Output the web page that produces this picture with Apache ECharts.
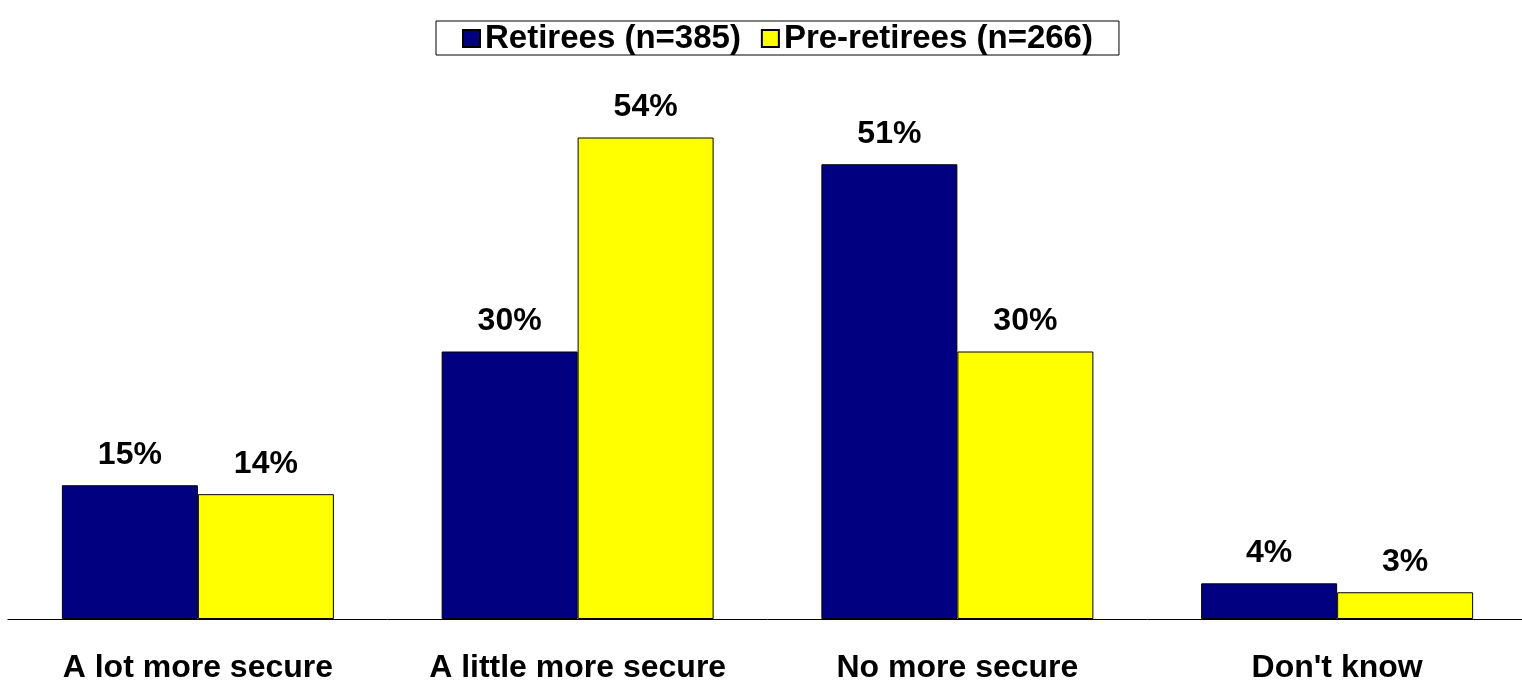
<!DOCTYPE html>
<html>
<head>
<meta charset="utf-8">
<script src="https://cdn.jsdelivr.net/npm/echarts@6/dist/echarts.min.js"></script>
<style>html,body{margin:0;padding:0;background:#fff;overflow:hidden}#c{width:1527px;height:684px}</style>
</head>
<body>
<div id="c"></div>
<script>
const categories = ["A lot more secure", "A little more secure", "No more secure", "Don't know"];
const retirees = [15, 30, 51, 4];
const preRetirees = [14, 54, 30, 3];
const seriesNames = ["Retirees (n=385)", "Pre-retirees (n=266)"];

const FONT = '"Liberation Sans", Arial, sans-serif';
const chart = echarts.init(document.getElementById('c'));
const labelStyle = {
  show: true, position: 'top', distance: 14,
  formatter: '{c}%', color: '#000', fontFamily: FONT, fontWeight: 'bold', fontSize: 32
};
chart.setOption({
  animation: false,
  backgroundColor: '#fff',
  legend: {
    top: 21, left: 436,
    padding: [1, 26, 0, 26],
    borderColor: '#000', borderWidth: 1,
    icon: 'rect',
    itemWidth: 17, itemHeight: 17, itemGap: 20,
    textStyle: { fontFamily: FONT, fontWeight: 'bold', fontSize: 33, lineHeight: 29, color: '#000' },
    data: seriesNames
  },
  grid: { left: 8, right: 0, top: 84, bottom: 63 },
  xAxis: {
    type: 'category', data: categories,
    axisLine: { lineStyle: { color: '#000', width: 1 } },
    axisTick: { show: false },
    axisLabel: { margin: 33, color: '#000', fontFamily: FONT, fontWeight: 'bold', fontSize: 32, interval: 0 }
  },
  yAxis: { type: 'value', min: 0, max: 60, show: false, splitLine: { show: false } },
  series: [
    { name: seriesNames[0], type: 'bar', data: retirees, barWidth: 136, barGap: '0%',
      itemStyle: { color: '#000080', borderColor: '#000', borderWidth: 1 }, label: labelStyle },
    { name: seriesNames[1], type: 'bar', data: preRetirees, barWidth: 136, barGap: '0%',
      itemStyle: { color: '#FFFF00', borderColor: '#000', borderWidth: 1 }, label: labelStyle }
  ]
});
</script>
</body>
</html>
